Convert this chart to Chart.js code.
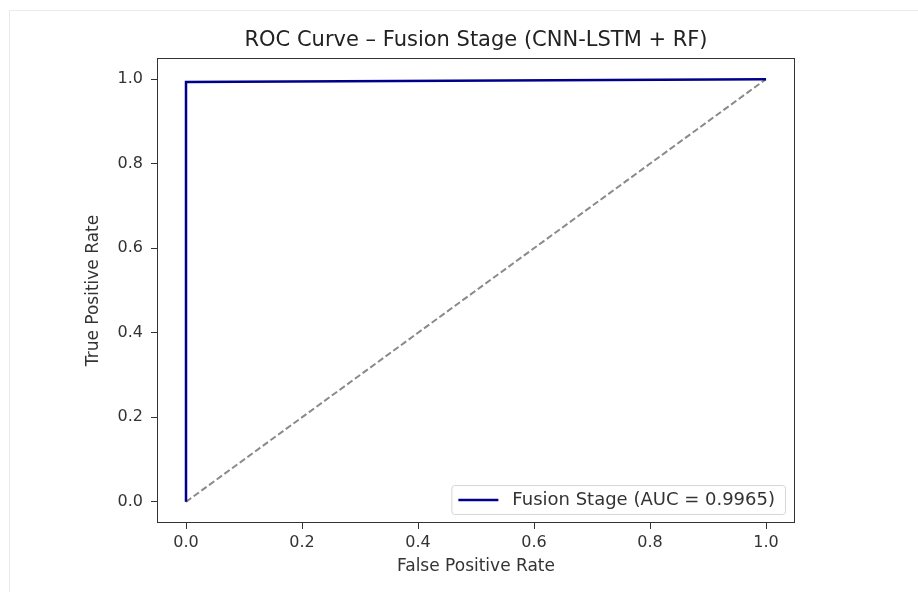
<!DOCTYPE html>
<html>
<head>
<meta charset="utf-8">
<script src="https://cdn.jsdelivr.net/npm/chart.js@4.4.1/dist/chart.umd.min.js"></script>
<style>
  html, body { margin: 0; padding: 0; background: #fff; }
  #wrap { position: relative; width: 918px; height: 592px; }
  #edge { position: absolute; left: 9px; top: 10px; right: 0; bottom: 0;
          border-left: 1px solid #e8e8e8; border-top: 1px solid #ececec; pointer-events: none; }
  canvas { position: absolute; left: 0; top: 0; }
</style>
</head>
<body>
<div id="wrap">
  <canvas id="roc" width="918" height="592"></canvas>
  <div id="edge"></div>
</div>
<script>
// dados da curva ROC
const fpr = [0.0, 0.0, 1.0];
const tpr = [0.0, 0.993, 1.0];
const chanceX = [0.0, 1.0];
const chanceY = [0.0, 1.0];
const tickValues = [0.0, 0.2, 0.4, 0.6, 0.8, 1.0];
const aucLabel = 'Fusion Stage (AUC = 0.9965)';

const FONT = "'DejaVu Sans', sans-serif";
const INK = '#333333';

function toPoints(xs, ys) {
  return xs.map((x, i) => ({ x: x, y: ys[i] }));
}

// moldura completa + legenda estilo matplotlib
const frameAndLegend = {
  id: 'frameAndLegend',
  afterDatasetsDraw(chart) {
    const { ctx, chartArea: a } = chart;
    ctx.save();
    ctx.strokeStyle = INK;
    ctx.lineWidth = 1;
    ctx.strokeRect(a.left + 0.5, a.top + 0.5, a.right - a.left - 1, a.bottom - a.top - 1);

    // legenda
    const ds = chart.data.datasets[0];
    ctx.font = '18px ' + FONT;
    const tw = ctx.measureText(ds.label).width;
    const h = 29, lineLen = 40;
    const w = 7 + lineLen + 14 + tw + 10;
    const x0 = a.right - 10 - w, y0 = a.bottom - 9 - h;
    ctx.beginPath();
    ctx.roundRect(x0 + 0.5, y0 + 0.5, w, h, 3);
    ctx.fillStyle = 'rgba(255,255,255,0.85)';
    ctx.fill();
    ctx.strokeStyle = '#d6d6d6';
    ctx.stroke();
    const cy = y0 + h / 2 + 0.5;
    ctx.beginPath();
    ctx.moveTo(x0 + 7, cy);
    ctx.lineTo(x0 + 7 + lineLen, cy);
    ctx.strokeStyle = ds.borderColor;
    ctx.lineWidth = ds.borderWidth;
    ctx.stroke();
    ctx.fillStyle = INK;
    ctx.textBaseline = 'middle';
    ctx.textAlign = 'left';
    ctx.fillText(ds.label, x0 + 7 + lineLen + 14, cy);
    ctx.restore();
  }
};

const axisCommon = {
  type: 'linear',
  min: -0.05,
  max: 1.05,
  afterBuildTicks: (scale) => { scale.ticks = tickValues.map(v => ({ value: v })); },
  grid: { drawOnChartArea: false, drawTicks: true, tickLength: 6, color: INK, tickColor: INK },
  border: { display: false },
};

new Chart(document.getElementById('roc'), {
  type: 'scatter',
  data: {
    datasets: [
      {
        label: aucLabel,
        data: toPoints(fpr, tpr),
        showLine: true,
        borderColor: '#00008B',
        borderWidth: 2.5,
        pointRadius: 0,
        tension: 0,
      },
      {
        label: 'chance',
        data: toPoints(chanceX, chanceY),
        showLine: true,
        borderColor: '#8a8a8a',
        borderWidth: 2,
        borderDash: [6.5, 3],
        pointRadius: 0,
        tension: 0,
      }
    ]
  },
  options: {
    responsive: false,
    animation: false,
    layout: { padding: { left: 0, right: 123, top: 0, bottom: 0 } },
    plugins: {
      legend: { display: false },
      tooltip: { enabled: false },
      title: {
        display: true,
        fullSize: false,
        text: 'ROC Curve – Fusion Stage (CNN-LSTM + RF)',
        color: '#222',
        font: { family: FONT, size: 21, weight: 'normal' },
        padding: { top: 28, bottom: 4.8 }
      }
    },
    scales: {
      x: Object.assign({}, axisCommon, {
        position: 'bottom',
        afterFit: (s) => { s.height = 69; },
        ticks: { color: INK, font: { family: FONT, size: 16 }, padding: 4,
                 callback: (v) => v.toFixed(1) },
        title: { display: true, text: 'False Positive Rate', color: INK,
                 font: { family: FONT, size: 17 }, padding: { top: 0, bottom: 15 } }
      }),
      y: Object.assign({}, axisCommon, {
        position: 'left',
        afterFit: (s) => { s.width = 157; },
        ticks: { color: INK, font: { family: FONT, size: 16 }, padding: 8,
                 callback: (v) => v.toFixed(1) },
        title: { display: true, text: 'True Positive Rate', color: INK,
                 font: { family: FONT, size: 17 }, padding: { top: 83, bottom: 0 } }
      })
    }
  },
  plugins: [frameAndLegend]
});
</script>
</body>
</html>
